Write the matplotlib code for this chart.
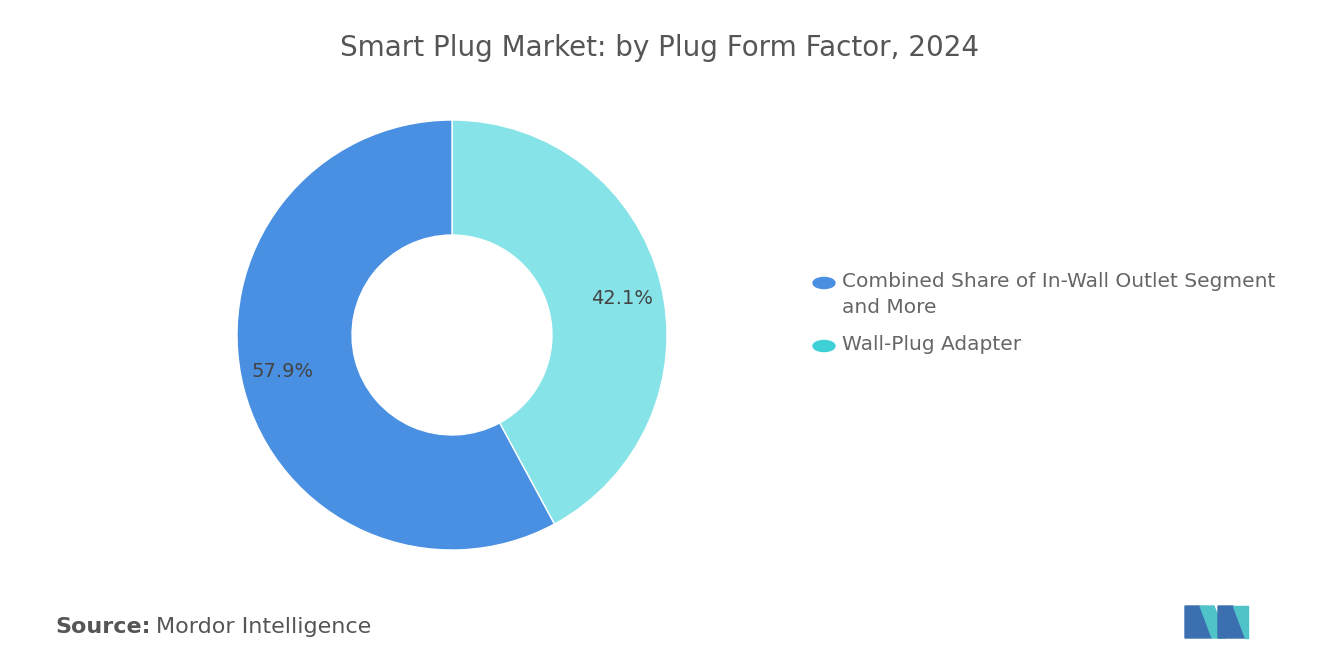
import matplotlib.pyplot as plt
from matplotlib.patches import Polygon

categories = ["Combined Share of In-Wall Outlet Segment\nand More", "Wall-Plug Adapter"]
shares = [57.9, 42.1]
slice_colors = ["#4A90E2", "#86E3E8"]
legend_colors = ["#4A90E2", "#3FCFD6"]

W, H = 1320, 665
fig = plt.figure(figsize=(W / 100, H / 100), dpi=100)
fig.patch.set_facecolor("white")

ax = fig.add_axes([237 / W, 115 / H, 430 / W, 430 / H])
wedges, texts = ax.pie(
    shares[::-1],
    colors=slice_colors[::-1],
    startangle=90,
    counterclock=False,
    radius=1.0,
    wedgeprops=dict(width=0.535, edgecolor="white", linewidth=1),
)
ax.set_xlim(-1, 1)
ax.set_ylim(-1, 1)
ax.set_aspect("equal")
ax.axis("off")

ax.text(0.79, 0.17, f"{shares[1]}%", ha="center", va="center", fontsize=14, color="#444444")
ax.text(-0.79, -0.17, f"{shares[0]}%", ha="center", va="center", fontsize=14, color="#444444")

fig.text(0.5, 1 - 48 / H, "Smart Plug Market: by Plug Form Factor, 2024",
         ha="center", va="center", fontsize=20, color="#555555")

# legend
for y, lab, col in [(283, categories[0], legend_colors[0]), (346, categories[1], legend_colors[1])]:
    fig.add_artist(plt.Circle((824 / W, 1 - y / H), 11 / W, transform=fig.transFigure,
                              color=col, clip_on=False))
    fig.text(842 / W, 1 - (y - 11) / H, lab, ha="left", va="top", fontsize=14.5,
             color="#666666", linespacing=1.45)

fig.text(55 / W, 1 - 627 / H, "Source:", ha="left", va="center", fontsize=16,
         color="#555555", fontweight="bold")
fig.text(156 / W, 1 - 627 / H, "Mordor Intelligence", ha="left", va="center",
         fontsize=16, color="#555555")

# logo
def px(pts):
    return [(x / W, 1 - y / H) for x, y in pts]

logo = [
    ([(1185, 638), (1185, 606), (1200, 606), (1212, 638)], "#3B6FB0"),
    ([(1200, 606), (1214, 606), (1226, 638), (1212, 638)], "#4FC3C8"),
    ([(1218, 638), (1218, 606), (1233, 606), (1245, 638)], "#3B6FB0"),
    ([(1233, 606), (1248, 606), (1248, 638), (1245, 638)], "#4FC3C8"),
]
for pts, col in logo:
    fig.add_artist(Polygon(px(pts), closed=True, transform=fig.transFigure, color=col))

fig.savefig("out.png", dpi=100)
